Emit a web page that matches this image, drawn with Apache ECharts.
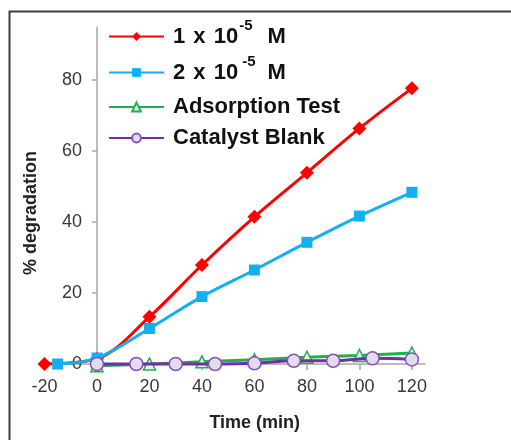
<!DOCTYPE html>
<html>
<head>
<meta charset="utf-8">
<script src="https://cdn.jsdelivr.net/npm/echarts@6/dist/echarts.min.js"></script>
<style>
html,body{margin:0;padding:0;background:#fff;}
#c{width:511px;height:440px;}
</style>
</head>
<body>
<div id="c"></div>
<script>
// ---- data ----
var seriesNames = ['1 x 10-5 M', '2 x 10-5 M', 'Adsorption Test', 'Catalyst Blank'];
var xTicks = [-20, 0, 20, 40, 60, 80, 100, 120];
var yTicks = [0, 20, 40, 60, 80];

var timeRed = [-20, 0, 20, 40, 60, 80, 100, 120];
var valRed = [0, 1.5, 13.3, 27.9, 41.5, 53.9, 66.4, 77.7];

var timeBlue = [-15, 0, 20, 40, 60, 80, 100, 120];
var valBlue = [0, 1.7, 10, 19, 26.5, 34.3, 41.7, 48.4];

var timeGreen = [0, 20, 40, 60, 80, 100, 120];
var valGreen = [-0.5, 0, 0.6, 1.2, 1.9, 2.4, 3.1];

var timePurple = [0, 15, 30, 45, 60, 75, 90, 105, 120];
var valPurple = [0, 0, 0, 0, 0.2, 0.9, 0.9, 1.6, 1.3];

function pairs(xs, ys) { return xs.map(function (x, i) { return [x, ys[i]]; }); }

var FONT = '"Liberation Sans", Arial, sans-serif';
var GRID_LEFT = 44.5;
var chart = echarts.init(document.getElementById('c'), null, { renderer: 'canvas' });

function legendItem(name, top, supPad) {
  var sup = name.indexOf('-5') > 0;
  return {
    data: [name],
    left: 108, top: top, padding: 0,
    orient: 'vertical',
    itemWidth: 55, itemHeight: 11, itemGap: 0,
    selectedMode: false,
    textStyle: {
      fontFamily: FONT, fontSize: 22, fontWeight: 'bold', color: '#111',
      padding: [0, 0, 0, 4],
      rich: {
        a: { fontFamily: FONT, fontSize: 22, fontWeight: 'bold', color: '#111' },
        x: { fontFamily: FONT, fontSize: 22, fontWeight: 'bold', color: '#111', padding: [0, 2, 0, 2] },
        s: { fontFamily: FONT, fontSize: 15, fontWeight: 'bold', color: '#111', padding: supPad || [0, 0, 22, 1] }
      }
    },
    formatter: function (n) {
      if (sup) {
        var parts = n.split('-5');
        var head = parts[0].split(' x ');
        return '{a|' + head[0] + ' }{x|x}{a| ' + head[1] + '}{s|-5}{a|' + parts[1] + '}';
      }
      return n;
    }
  };
}

var option = {
  animation: false,
  backgroundColor: '#fff',
  graphic: [{
    type: 'rect', shape: { x: 9.5, y: 11.5, width: 600, height: 600 },
    style: { fill: 'none', stroke: '#3c3c3c', lineWidth: 2 }, silent: true, z: 0
  }],
  legend: [
    legendItem(seriesNames[0], 18, [0, 9, 22, 1]),
    legendItem(seriesNames[1], 54, [0, 6, 22, 4]),
    legendItem(seriesNames[2], 96),
    legendItem(seriesNames[3], 127)
  ],
  grid: { left: GRID_LEFT, right: 86, top: 27, bottom: 76, containLabel: false, outerBoundsMode: 'none' },
  xAxis: {
    type: 'value', min: -20, max: 125, interval: 20,
    name: 'Time (min)', nameLocation: 'middle', nameGap: 50,
    nameTextStyle: { fontFamily: FONT, fontSize: 18, fontWeight: 'bold', color: '#222', padding: [0, 0, 0, 40] },
    axisLine: { onZero: false, lineStyle: { color: '#a6a6a6', width: 1.5 } },
    axisTick: { show: true, length: 6, customValues: xTicks, lineStyle: { color: '#a6a6a6', width: 1.5 } },
    axisLabel: { customValues: xTicks, fontFamily: FONT, fontSize: 18, color: '#383838', margin: 14 },
    splitLine: { show: false }
  },
  yAxis: {
    type: 'value', min: 0, max: 95, interval: 20, offset: 0,
    name: '% degradation', nameLocation: 'middle', nameGap: 57, nameRotate: 90,
    nameTextStyle: { fontFamily: FONT, fontSize: 18, fontWeight: 'bold', color: '#222', padding: [0, 35, 0, 0] },
    axisLine: { show: true, onZero: false, lineStyle: { color: '#a6a6a6', width: 1.5 } },
    axisTick: { show: true, length: 5, customValues: yTicks, lineStyle: { color: '#a6a6a6', width: 1.5 } },
    axisLabel: { customValues: yTicks, fontFamily: FONT, fontSize: 18, color: '#383838', margin: 15 },
    splitLine: { show: false }
  },
  series: [
    {
      name: seriesNames[0], type: 'line', data: pairs(timeRed, valRed), smooth: 0.35,
      symbol: 'diamond', symbolSize: 14, clip: false,
      lineStyle: { color: '#ff0000', width: 3 },
      itemStyle: { color: '#ff0000' }, z: 2
    },
    {
      name: seriesNames[1], type: 'line', data: pairs(timeBlue, valBlue), smooth: 0.35,
      symbol: 'rect', symbolSize: 11, clip: false,
      lineStyle: { color: '#12b0f0', width: 3 },
      itemStyle: { color: '#12b0f0' }, z: 3
    },
    {
      name: seriesNames[2], type: 'line', data: pairs(timeGreen, valGreen), smooth: 0.35,
      symbol: 'triangle', symbolSize: 12, clip: false,
      lineStyle: { color: '#1fae50', width: 3 },
      itemStyle: { color: '#e4f4e4', borderColor: '#1fae50', borderWidth: 1.5 }, z: 4
    },
    {
      name: seriesNames[3], type: 'line', data: pairs(timePurple, valPurple), smooth: 0.35,
      symbol: 'circle', symbolSize: 13, clip: false,
      lineStyle: { color: '#7030a0', width: 3 },
      itemStyle: { color: '#e2dcee', borderColor: '#8a50b8', borderWidth: 1.5 }, z: 5
    }
  ]
};
chart.setOption(option);
// place the y axis at x = 0 (where it crosses in the reference), using the library's own scale
var zeroPx = chart.convertToPixel({ xAxisIndex: 0 }, 0);
chart.setOption({ yAxis: { offset: -(zeroPx - GRID_LEFT) } });
</script>
</body>
</html>
